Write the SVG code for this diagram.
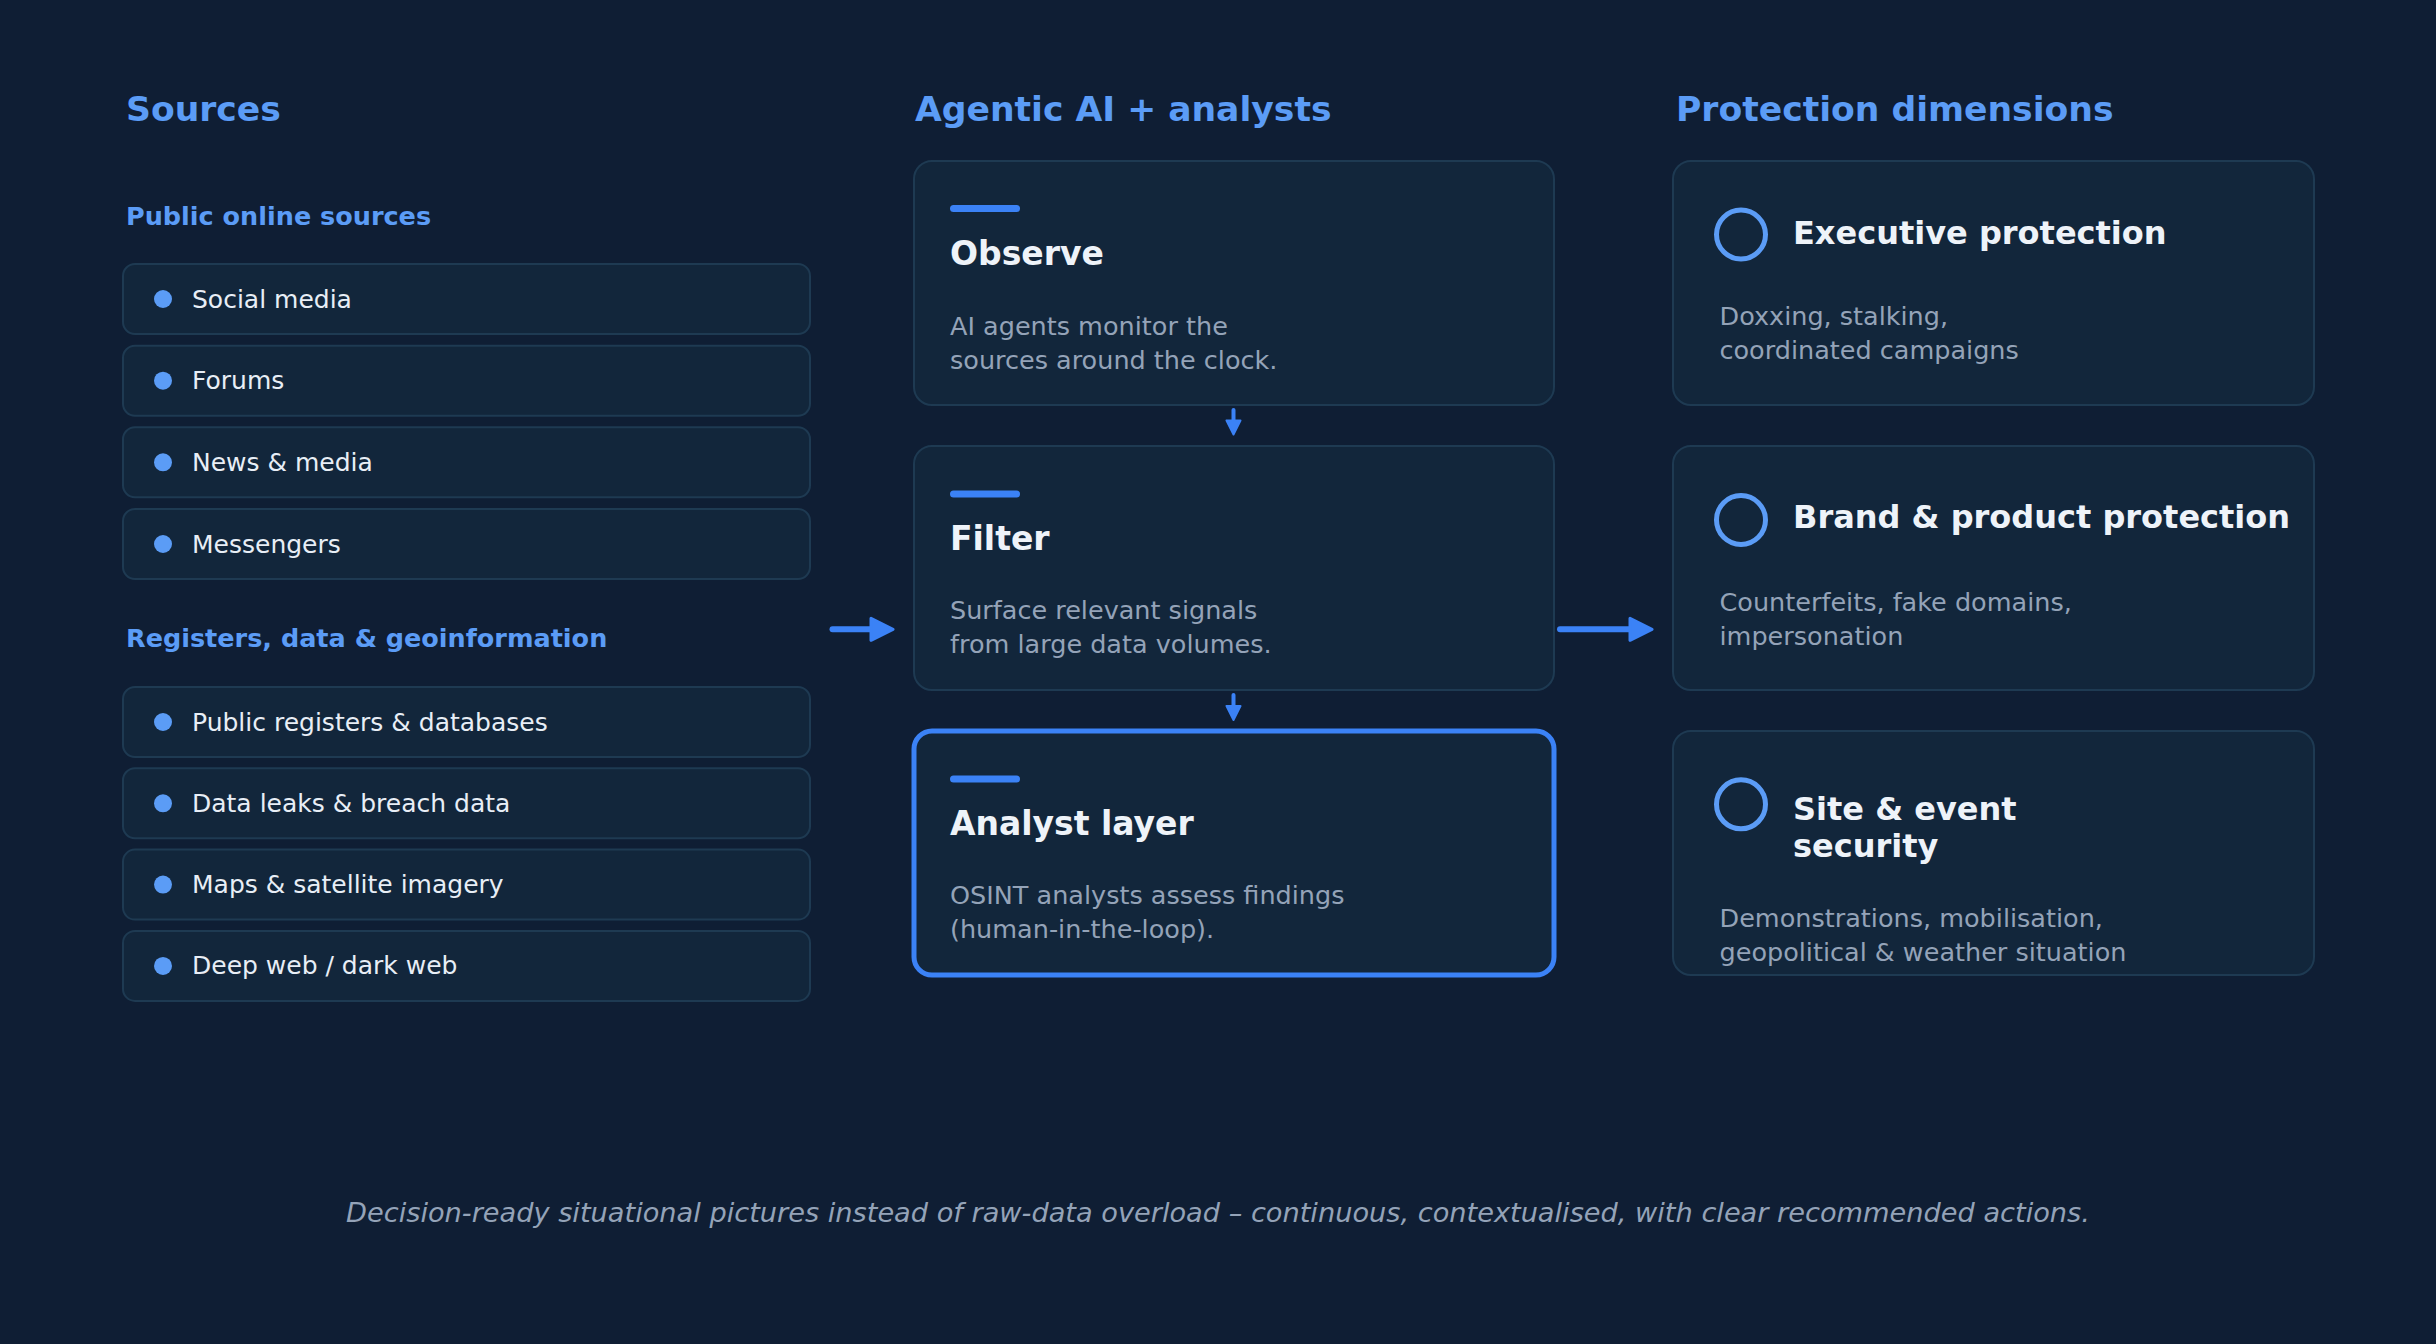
<svg xmlns="http://www.w3.org/2000/svg" width="2436" height="1344" viewBox="0 0 2436 1344">
<defs>
<style>
text{font-family:"DejaVu Sans","Liberation Sans",sans-serif}
.hdr{font-size:34.6px;font-weight:bold;fill:#5b9cf6}
.sub{font-size:25.5px;font-weight:bold;fill:#5b9cf6}
.item{fill:#12263b;stroke:#1e3a52;stroke-width:2}
.itxt{font-size:25px;fill:#e8eef6}
.dot{fill:#5b9cf6}
.card{fill:#12263b;stroke:#1e3a52;stroke-width:2}
.card-hl{fill:#12263b;stroke:#3b82f6;stroke-width:5}
.bar{fill:#3b82f6}
.ttl{font-size:33px;font-weight:bold;fill:#eef3f9}
.ttl2{font-size:32px;font-weight:bold;fill:#eef3f9}
.desc{font-size:25.5px;fill:#94a3b8}
.ring{fill:none;stroke:#5b9cf6;stroke-width:5}
.foot{font-size:27.2px;font-style:italic;fill:#94a3b8}
.conn{stroke:#3b82f6;fill:none;stroke-linecap:round}
</style>
<marker id="ah" viewBox="0 0 26 26" markerWidth="26" markerHeight="26" refX="1" refY="13" orient="auto" markerUnits="userSpaceOnUse">
<path d="M2,2 L24,13 L2,24 Z" fill="#3b82f6" stroke="#3b82f6" stroke-width="3" stroke-linejoin="round"/>
</marker>
<marker id="ahs" viewBox="0 0 17 17" markerWidth="17" markerHeight="17" refX="1" refY="8.5" orient="auto" markerUnits="userSpaceOnUse">
<path d="M1.5,1.5 L15.5,8.5 L1.5,15.5 Z" fill="#3b82f6" stroke="#3b82f6" stroke-width="2" stroke-linejoin="round"/>
</marker>
</defs>
<rect x="0" y="0" width="2436" height="1344" fill="#0f1e34"/>

<g id="headers">
<text class="hdr" x="126" y="121">Sources</text>
<text class="hdr" x="915" y="121">Agentic AI + analysts</text>
<text class="hdr" x="1676" y="121">Protection dimensions</text>
</g>

<g id="sources">
<text class="sub" x="126" y="225">Public online sources</text>
<g id="src-social"><rect class="item" x="123" y="264" width="687" height="70" rx="12"/><circle class="dot" cx="163" cy="299" r="9"/><text class="itxt" x="192" y="307.5">Social media</text></g>
<g id="src-forums"><rect class="item" x="123" y="345.7" width="687" height="70" rx="12"/><circle class="dot" cx="163" cy="380.7" r="9"/><text class="itxt" x="192" y="389.2">Forums</text></g>
<g id="src-news"><rect class="item" x="123" y="427.3" width="687" height="70" rx="12"/><circle class="dot" cx="163" cy="462.3" r="9"/><text class="itxt" x="192" y="470.8">News &amp; media</text></g>
<g id="src-messengers"><rect class="item" x="123" y="509" width="687" height="70" rx="12"/><circle class="dot" cx="163" cy="544" r="9"/><text class="itxt" x="192" y="552.5">Messengers</text></g>
<text class="sub" x="126" y="647">Registers, data &amp; geoinformation</text>
<g id="src-registers"><rect class="item" x="123" y="687" width="687" height="70" rx="12"/><circle class="dot" cx="163" cy="722" r="9"/><text class="itxt" x="192" y="730.5">Public registers &amp; databases</text></g>
<g id="src-leaks"><rect class="item" x="123" y="768.3" width="687" height="70" rx="12"/><circle class="dot" cx="163" cy="803.3" r="9"/><text class="itxt" x="192" y="811.8">Data leaks &amp; breach data</text></g>
<g id="src-maps"><rect class="item" x="123" y="849.6" width="687" height="70" rx="12"/><circle class="dot" cx="163" cy="884.6" r="9"/><text class="itxt" x="192" y="893.1">Maps &amp; satellite imagery</text></g>
<g id="src-deepweb"><rect class="item" x="123" y="930.9" width="687" height="70" rx="12"/><circle class="dot" cx="163" cy="965.9" r="9"/><text class="itxt" x="192" y="974.4">Deep web / dark web</text></g>
</g>

<g id="observe">
<rect class="card" x="914" y="161" width="640" height="244" rx="18"/>
<rect class="bar" x="950" y="205" width="70" height="7" rx="3.5"/>
<text class="ttl" x="950" y="265">Observe</text>
<text class="desc" x="950" y="334.5">AI agents monitor the</text>
<text class="desc" x="950" y="368.5">sources around the clock.</text>
</g>
<g id="filter">
<rect class="card" x="914" y="446" width="640" height="244" rx="18"/>
<rect class="bar" x="950" y="490.5" width="70" height="7" rx="3.5"/>
<text class="ttl" x="950" y="550">Filter</text>
<text class="desc" x="950" y="619">Surface relevant signals</text>
<text class="desc" x="950" y="653">from large data volumes.</text>
</g>
<g id="analyst">
<rect class="card-hl" x="914" y="731" width="640" height="244" rx="18"/>
<rect class="bar" x="950" y="775.5" width="70" height="7" rx="3.5"/>
<text class="ttl" x="950" y="835">Analyst layer</text>
<text class="desc" x="950" y="904">OSINT analysts assess findings</text>
<text class="desc" x="950" y="938">(human-in-the-loop).</text>
</g>

<g id="exec">
<rect class="card" x="1673" y="161" width="641" height="244" rx="18"/>
<circle class="ring" cx="1741" cy="234.5" r="24.5"/>
<text class="ttl2" x="1793" y="243.5">Executive protection</text>
<text class="desc" x="1719.5" y="325">Doxxing, stalking,</text>
<text class="desc" x="1719.5" y="359">coordinated campaigns</text>
</g>
<g id="brand">
<rect class="card" x="1673" y="446" width="641" height="244" rx="18"/>
<circle class="ring" cx="1741" cy="520" r="24.5"/>
<text class="ttl2" x="1793" y="528">Brand &amp; product protection</text>
<text class="desc" x="1719.5" y="610.5">Counterfeits, fake domains,</text>
<text class="desc" x="1719.5" y="644.5">impersonation</text>
</g>
<g id="site">
<rect class="card" x="1673" y="731" width="641" height="244" rx="18"/>
<circle class="ring" cx="1741" cy="804.3" r="24.5"/>
<text class="ttl2" x="1793" y="819.5">Site &amp; event</text>
<text class="ttl2" x="1793" y="856.5">security</text>
<text class="desc" x="1719.5" y="926.5">Demonstrations, mobilisation,</text>
<text class="desc" x="1719.5" y="961">geopolitical &amp; weather situation</text>
</g>

<g id="connectors">
<line class="conn" x1="832.5" y1="629.3" x2="870" y2="629.3" stroke-width="6" marker-end="url(#ah)"/>
<line class="conn" x1="1560" y1="629.3" x2="1629" y2="629.3" stroke-width="6" marker-end="url(#ah)"/>
<line class="conn" x1="1233.5" y1="410" x2="1233.5" y2="420" stroke-width="4" marker-end="url(#ahs)"/>
<line class="conn" x1="1233.5" y1="695" x2="1233.5" y2="705.5" stroke-width="4" marker-end="url(#ahs)"/>
</g>

<text class="foot" x="1218" y="1221.7" text-anchor="middle">Decision-ready situational pictures instead of raw-data overload – continuous, contextualised, with clear recommended actions.</text>
</svg>
